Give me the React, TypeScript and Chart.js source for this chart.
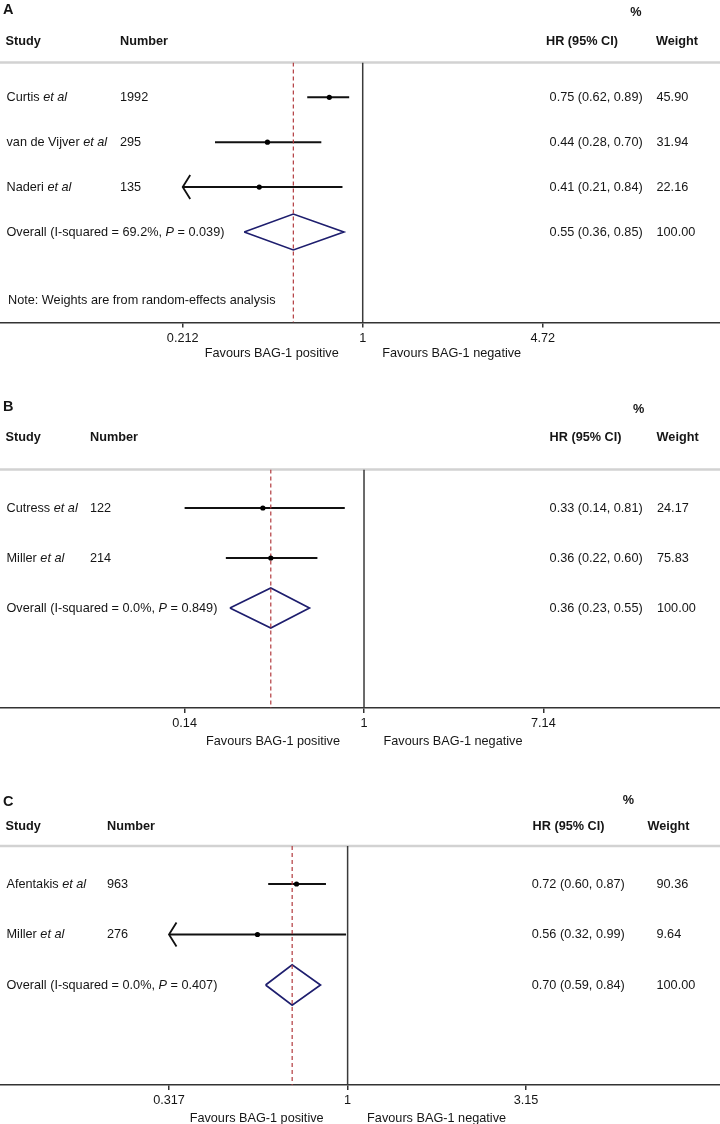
import React, { useEffect, useRef } from "react";
import { Chart, registerables } from "chart.js";

Chart.register(...registerables);

const FONT = "'Liberation Sans', Arial, Helvetica, sans-serif";
const FS = 12.7;
const TEXT = "#151515";

// ---------- Panel A ----------
const studiesA = ["Curtis", "van de Vijver", "Naderi"];
const numbersA = ["1992", "295", "135"];
const hrA = [0.75, 0.44, 0.41];
const lowA = [0.62, 0.28, 0.208];
const highA = [0.89, 0.7, 0.84];
const weightsA = [45.9, 31.94, 22.16];
const overallA = [0.55, 0.36, 0.85]; // HR, low, high
const hetA = ["69.2%", "0.039"]; // I-squared, P
const ticksA = [0.212, 1, 4.72];
const noteA = "Note: Weights are from random-effects analysis";

// ---------- Panel B ----------
const studiesB = ["Cutress", "Miller"];
const numbersB = ["122", "214"];
const hrB = [0.33, 0.36];
const lowB = [0.14, 0.22];
const highB = [0.81, 0.6];
const weightsB = [24.17, 75.83];
const overallB = [0.36, 0.23, 0.55];
const hetB = ["0.0%", "0.849"];
const ticksB = [0.14, 1, 7.14];

// ---------- Panel C ----------
const studiesC = ["Afentakis", "Miller"];
const numbersC = ["963", "276"];
const hrC = [0.72, 0.56];
const lowC = [0.6, 0.316];
const highC = [0.87, 0.99];
const weightsC = [90.36, 9.64];
const overallC = [0.7, 0.59, 0.84];
const hetC = ["0.0%", "0.407"];
const ticksC = [0.317, 1, 3.15];

type Layout = {
  top: number;
  height: number;
  letterY: number;
  pctY: number;
  pctX: number;
  headerY: number;
  grayY: number;
  row0: number;
  step: number;
  axisY: number;
  favoursY: number;
  noteY?: number;
  numberX: number;
  hrHeadX: number;
  hrX: number;
  wHeadX: number;
  wX: number;
  xMin: number;
  xMax: number;
};

type Spec = {
  letter: string;
  studies: string[];
  numbers: string[];
  hr: number[];
  low: number[];
  high: number[];
  weights: number[];
  overall: number[];
  het: string[];
  ticks: number[];
  note?: string;
  layout: Layout;
};

const panels: Spec[] = [
  {
    letter: "A",
    studies: studiesA,
    numbers: numbersA,
    hr: hrA,
    low: lowA,
    high: highA,
    weights: weightsA,
    overall: overallA,
    het: hetA,
    ticks: ticksA,
    note: noteA,
    layout: {
      top: 0,
      height: 375,
      letterY: 10,
      pctY: 12.5,
      pctX: 636,
      headerY: 41.5,
      grayY: 62.5,
      row0: 97.3,
      step: 44.9,
      axisY: 322.5,
      favoursY: 353,
      noteY: 300,
      numberX: 120,
      hrHeadX: 546,
      hrX: 549.6,
      wHeadX: 656,
      wX: 656.5,
      xMin: 0.0439,
      xMax: 21.74,
    },
  },
  {
    letter: "B",
    studies: studiesB,
    numbers: numbersB,
    hr: hrB,
    low: lowB,
    high: highB,
    weights: weightsB,
    overall: overallB,
    het: hetB,
    ticks: ticksB,
    layout: {
      top: 375,
      height: 385,
      letterY: 407,
      pctY: 409.5,
      pctX: 638.7,
      headerY: 437,
      grayY: 469.5,
      row0: 508,
      step: 50,
      axisY: 708,
      favoursY: 741.5,
      numberX: 90,
      hrHeadX: 549.6,
      hrX: 549.6,
      wHeadX: 656.6,
      wX: 657,
      xMin: 0.01851,
      xMax: 49.48,
    },
  },
  {
    letter: "C",
    studies: studiesC,
    numbers: numbersC,
    hr: hrC,
    low: lowC,
    high: highC,
    weights: weightsC,
    overall: overallC,
    het: hetC,
    ticks: ticksC,
    layout: {
      top: 760,
      height: 364,
      letterY: 801.5,
      pctY: 800,
      pctX: 628.5,
      headerY: 826,
      grayY: 846,
      row0: 884,
      step: 50.5,
      axisY: 1085,
      favoursY: 1118,
      numberX: 107,
      hrHeadX: 532.6,
      hrX: 531.7,
      wHeadX: 647.4,
      wX: 656.5,
      xMin: 0.1069,
      xMax: 10.97,
    },
  },
];

function drawRuns(
  ctx: CanvasRenderingContext2D,
  runs: [string, boolean][],
  x: number,
  y: number
) {
  let cx = x;
  for (const [t, it] of runs) {
    ctx.font = `${it ? "italic " : ""}${FS}px ${FONT}`;
    ctx.fillText(t, cx, y);
    cx += ctx.measureText(t).width;
  }
}

const hrText = (h: number, l: number, u: number) =>
  `${h.toFixed(2)} (${l.toFixed(2)}, ${u.toFixed(2)})`;

function ForestPanel({ spec }: { spec: Spec }) {
  const ref = useRef<HTMLCanvasElement | null>(null);

  useEffect(() => {
    const L = spec.layout;
    const T = L.top;
    const n = spec.studies.length;
    const yMin = (L.grayY - L.row0) / L.step;
    const yMax = (L.axisY - L.row0) / L.step;
    const axisLo = spec.ticks[0];
    const o = spec.overall;
    const AXIS_H = 22;

    const datasets: any[] = [];
    // study points
    datasets.push({
      data: spec.hr.map((v, i) => ({ x: v, y: i })),
      showLine: false,
      pointRadius: 2.6,
      pointBackgroundColor: "#000",
      pointBorderWidth: 0,
      order: -2,
    });
    // overall dashed line
    datasets.push({
      data: [
        { x: o[0], y: yMin },
        { x: o[0], y: yMax },
      ],
      showLine: true,
      borderColor: "#b23a3e",
      borderWidth: 1.2,
      borderDash: [4, 3],
      pointRadius: 0,
      order: -1,
    });
    // null line
    datasets.push({
      data: [
        { x: 1, y: yMin },
        { x: 1, y: yMax },
      ],
      showLine: true,
      borderColor: "#3a3a3a",
      borderWidth: 1.5,
      pointRadius: 0,
      order: 1,
    });
    // diamond
    const h = 0.4;
    datasets.push({
      data: [
        { x: o[1], y: n },
        { x: o[0], y: n - h },
        { x: o[2], y: n },
        { x: o[0], y: n + h },
        { x: o[1], y: n },
      ],
      showLine: true,
      borderColor: "#1e1e6e",
      borderWidth: 1.7,
      pointRadius: 0,
      fill: false,
      tension: 0,
      order: 2,
    });
    // confidence intervals
    spec.hr.forEach((_, i) => {
      datasets.push({
        data: [
          { x: Math.max(spec.low[i], axisLo), y: i },
          { x: spec.high[i], y: i },
        ],
        showLine: true,
        borderColor: "#111",
        borderWidth: 2,
        pointRadius: 0,
        order: 3,
      });
    });

    const textPlugin = {
      id: "forestText",
      beforeDatasetsDraw(chart: any) {
        const ctx = chart.ctx as CanvasRenderingContext2D;
        ctx.save();
        ctx.strokeStyle = "#d2d2d2";
        ctx.lineWidth = 2.5;
        ctx.beginPath();
        ctx.moveTo(0, L.grayY - T);
        ctx.lineTo(720, L.grayY - T);
        ctx.stroke();
        ctx.restore();
      },
      afterDraw(chart: any) {
        const ctx = chart.ctx as CanvasRenderingContext2D;
        const xs = chart.scales.x;
        const ys = chart.scales.y;
        ctx.save();
        ctx.fillStyle = TEXT;
        ctx.textBaseline = "middle";
        ctx.textAlign = "left";
        // panel letter
        ctx.font = `bold 14.5px ${FONT}`;
        ctx.fillText(spec.letter, 3, L.letterY - T);
        // headers
        ctx.font = `bold ${FS}px ${FONT}`;
        ctx.textAlign = "center";
        ctx.fillText("%", L.pctX, L.pctY - T);
        ctx.textAlign = "left";
        ctx.fillText("Study", 5.5, L.headerY - T);
        ctx.fillText("Number", L.numberX, L.headerY - T);
        ctx.fillText("HR (95% CI)", L.hrHeadX, L.headerY - T);
        ctx.fillText("Weight", L.wHeadX, L.headerY - T);

        // study rows
        spec.studies.forEach((s, i) => {
          const y = ys.getPixelForValue(i);
          drawRuns(ctx, [[s + " ", false], ["et al", true]], 6.5, y);
          ctx.font = `${FS}px ${FONT}`;
          ctx.fillText(spec.numbers[i], L.numberX, y);
          ctx.fillText(hrText(spec.hr[i], spec.low[i], spec.high[i]), L.hrX, y);
          ctx.fillText(spec.weights[i].toFixed(2), L.wX, y);
          // arrow for clipped lower bound
          if (spec.low[i] < spec.ticks[0]) {
            const tx = xs.getPixelForValue(spec.ticks[0]);
            ctx.save();
            ctx.strokeStyle = "#111";
            ctx.lineWidth = 1.8;
            ctx.beginPath();
            ctx.moveTo(tx + 7.5, y - 12);
            ctx.lineTo(tx, y);
            ctx.lineTo(tx + 7.5, y + 12);
            ctx.stroke();
            ctx.restore();
          }
        });

        // overall row
        const yo = ys.getPixelForValue(n);
        drawRuns(
          ctx,
          [
            [`Overall (I-squared = ${spec.het[0]}, `, false],
            ["P", true],
            [` = ${spec.het[1]})`, false],
          ],
          6.5,
          yo
        );
        ctx.font = `${FS}px ${FONT}`;
        ctx.fillText(hrText(o[0], o[1], o[2]), L.hrX, yo);
        ctx.fillText((100).toFixed(2), L.wX, yo);

        if (spec.note && L.noteY !== undefined) {
          ctx.fillText(spec.note, 8, L.noteY - T);
        }

        // favours labels
        const p1 = xs.getPixelForValue(1);
        ctx.textAlign = "right";
        ctx.fillText("Favours BAG-1 positive", p1 - 24, L.favoursY - T);
        ctx.textAlign = "left";
        ctx.fillText("Favours BAG-1 negative", p1 + 19.5, L.favoursY - T);
        ctx.restore();
      },
    };

    const chart = new Chart(ref.current as HTMLCanvasElement, {
      type: "scatter",
      data: { datasets },
      options: {
        animation: false,
        responsive: false,
        maintainAspectRatio: false,
        devicePixelRatio: 1,
        events: [],
        layout: {
          autoPadding: false,
          padding: {
            top: L.grayY - T,
            bottom: L.height - (L.axisY - T) - AXIS_H,
            left: 0,
            right: 0,
          },
        },
        plugins: {
          legend: { display: false },
          tooltip: { enabled: false },
        },
        scales: {
          x: {
            type: "logarithmic",
            min: L.xMin,
            max: L.xMax,
            afterBuildTicks: (s: any) => {
              s.ticks = spec.ticks.map((v) => ({ value: v }));
            },
            afterFit: (s: any) => {
              s.height = AXIS_H;
            },
            grid: {
              display: true,
              drawOnChartArea: false,
              drawTicks: true,
              tickLength: 5,
              color: "#333",
              lineWidth: 1.5,
            },
            border: { display: true, color: "#333", width: 1.5 },
            ticks: {
              callback: (v: any) => String(v),
              font: { family: FONT, size: FS },
              color: TEXT,
              padding: 3,
              maxRotation: 0,
              autoSkip: false,
            },
          },
          y: {
            type: "linear",
            reverse: true,
            min: yMin,
            max: yMax,
            display: false,
          },
        },
      } as any,
      plugins: [textPlugin],
    });
    return () => chart.destroy();
  }, [spec]);

  return (
    <canvas
      ref={ref}
      width={720}
      height={spec.layout.height}
      style={{ display: "block", width: 720, height: spec.layout.height }}
    />
  );
}

export default function App() {
  return (
    <div style={{ width: 720, height: 1124, background: "#fff" }}>
      <style>{`body{margin:0;background:#fff;}`}</style>
      {panels.map((p) => (
        <ForestPanel key={p.letter} spec={p} />
      ))}
    </div>
  );
}
